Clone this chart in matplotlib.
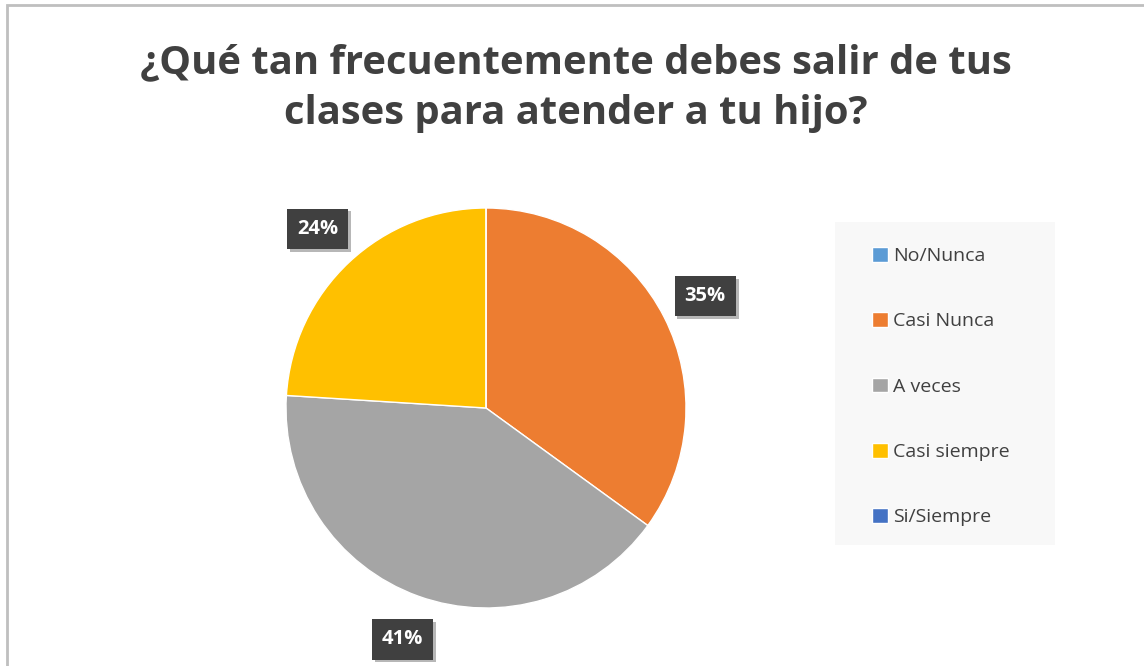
import matplotlib.pyplot as plt
from matplotlib.patches import Rectangle
import matplotlib.patheffects as pe

#--------------------------------------------------
#datos

categorias = ["No/Nunca", "Casi Nunca", "A veces", "Casi siempre", "Si/Siempre"]
porcentajes = [0, 35, 41, 24, 0]
colores = ["#5B9BD5", "#ED7D31", "#A5A5A5", "#FFC000", "#4472C4"]
titulo = "¿Qué tan frecuentemente debes salir de tus\nclases para atender a tu hijo?"

plt.rcParams['font.family'] = ['Open Sans', 'DejaVu Sans']

#--------------------------------------------------
#figura

fig = plt.figure(figsize=(11.44, 6.66), dpi=100)
fig.patch.set_facecolor("white")

#borde del grafico
fig.add_artist(Rectangle((7/1144, -0.01), 1.1, (666-5)/666 + 0.01, transform=fig.transFigure,
                         fill=False, edgecolor="#bfbfbf", linewidth=2))

fig.text(0.503, 0.868, titulo, ha="center", va="center", fontsize=28.8, weight="bold",
         color="#404040", linespacing=1.4)

ax = fig.add_axes([(486-200)/1144, (666-408-200)/666, 400/1144, 400/666])

def etiqueta(p):
    return f"{p:.0f}%" if p > 0.5 else ""

wedges, textos, pcts = ax.pie(porcentajes, colors=colores, startangle=90, counterclock=False,
                              autopct=etiqueta, pctdistance=1.23,
                              wedgeprops={'edgecolor': 'white', 'linewidth': 1})
for t in pcts:
    t.set_color("white")
    t.set_fontsize(14.5)
    t.set_weight("bold")
    t.set_bbox({'facecolor': '#404040', 'edgecolor': 'none', 'boxstyle': 'square,pad=0.5',
                'path_effects': [pe.SimplePatchShadow(offset=(2, -2), alpha=0.3), pe.Normal()]})
ax.set_xlim(-1, 1)
ax.set_ylim(-1, 1)
ax.set_aspect("auto")

#fondo de la leyenda
fig.add_artist(Rectangle((835/1144, (666-545)/666), 220/1144, 323/666, transform=fig.transFigure,
                         facecolor="#f8f8f8", edgecolor="none", zorder=0))

leg = ax.legend(wedges, categorias, loc="upper left", bbox_to_anchor=(872/1144, (666-247)/666),
                bbox_transform=fig.transFigure, frameon=False,
                fontsize=14, labelspacing=2.42, handlelength=0.8, handleheight=0.8,
                handletextpad=0.3, borderpad=0, borderaxespad=0)
for t in leg.get_texts():
    t.set_color("#404040")

plt.savefig("out.png", dpi=100)
